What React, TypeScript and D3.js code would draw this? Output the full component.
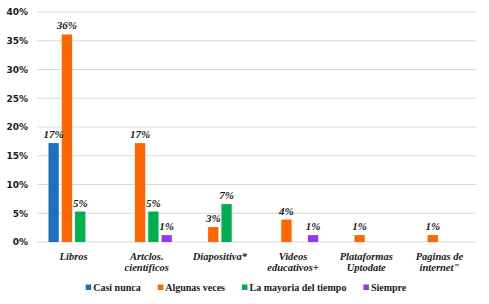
import { useEffect, useRef } from "react";
import * as d3 from "d3";

const categories = [
  ["Libros"],
  ["Artclos.", "científicos"],
  ["Diapositiva*"],
  ["Videos", "educativos+"],
  ["Plataformas", "Uptodate"],
  ["Paginas de", "internet\""],
];
const seriesNames = ["Casi nunca", "Algunas veces", "La mayoria del tiempo", "Siempre"];
const seriesColors = ["#1F6FC0", "#FF6600", "#00B050", "#9933FF"];
const casiNunca = [17.2, 0, 0, 0, 0, 0];
const algunasVeces = [36.1, 17.2, 2.6, 3.9, 1.2, 1.2];
const mayoriaTiempo = [5.3, 5.3, 6.6, 0, 0, 0];
const siempre = [0, 1.2, 0, 1.2, 0, 0];
const yTicks = [0, 5, 10, 15, 20, 25, 30, 35, 40];

const width = 489,
  height = 304;
const margin = { left: 37, right: 13, top: 12, bottom: 62 };

export default function App() {
  const svgRef = useRef<SVGSVGElement>(null);

  useEffect(() => {
    const svg = d3.select(svgRef.current);
    svg.selectAll("*").remove();

    const values = [casiNunca, algunasVeces, mayoriaTiempo, siempre];
    const keys = categories.map((c) => c.join(" "));

    const x0 = d3.scaleBand().domain(keys).range([margin.left, width - margin.right]);
    const inner = 50.2;
    const x1 = d3
      .scaleBand()
      .domain(seriesNames)
      .range([(x0.bandwidth() - inner) / 2, (x0.bandwidth() + inner) / 2])
      .paddingInner(0.225);
    const y = d3.scaleLinear().domain([0, 40]).range([height - margin.bottom, margin.top]);

    // grid
    svg.append("g")
      .selectAll("line")
      .data(yTicks)
      .enter()
      .append("line")
      .attr("x1", margin.left)
      .attr("x2", width - margin.right)
      .attr("y1", (d) => y(d))
      .attr("y2", (d) => y(d))
      .attr("stroke", "#D9D9D9")
      .attr("stroke-width", 1);

    svg.append("g")
      .selectAll("text")
      .data(yTicks)
      .enter()
      .append("text")
      .attr("x", 28)
      .attr("y", (d) => y(d) + 3.3)
      .attr("text-anchor", "end")
      .attr("font-family", "DejaVu Sans")
      .attr("font-weight", "bold")
      .attr("font-size", 9)
      .attr("fill", "#1a1a1a")
      .text((d) => d + "%");

    const flat: { key: string; s: string; v: number; i: number }[] = [];
    values.forEach((arr, si) =>
      arr.forEach((v, ci) => flat.push({ key: keys[ci], s: seriesNames[si], v, i: si }))
    );
    const nonZero = flat.filter((d) => d.v > 0);

    svg.append("g")
      .selectAll("rect")
      .data(nonZero)
      .enter()
      .append("rect")
      .attr("x", (d) => x0(d.key)! + x1(d.s)!)
      .attr("y", (d) => y(d.v))
      .attr("width", x1.bandwidth())
      .attr("height", (d) => y(0) - y(d.v))
      .attr("fill", (d) => seriesColors[d.i]);

    svg.append("g")
      .selectAll("text")
      .data(nonZero)
      .enter()
      .append("text")
      .attr("x", (d) => x0(d.key)! + x1(d.s)! + x1.bandwidth() / 2)
      .attr("y", (d) => y(d.v) - 5)
      .attr("text-anchor", "middle")
      .attr("font-family", "Liberation Serif")
      .attr("font-weight", "bold")
      .attr("font-style", "italic")
      .attr("font-size", 11)
      .attr("fill", "#1a1a1a")
      .text((d) => Math.round(d.v) + "%");

    // category labels
    const cat = svg.append("g")
      .selectAll("text")
      .data(categories)
      .enter()
      .append("text")
      .attr("text-anchor", "middle")
      .attr("font-family", "Liberation Serif")
      .attr("font-weight", "bold")
      .attr("font-style", "italic")
      .attr("font-size", 10.5)
      .attr("fill", "#1a1a1a");
    cat.each(function (c, i) {
      const t = d3.select(this);
      c.forEach((line, j) => {
        t.append("tspan")
          .attr("x", x0(keys[i])! + x0.bandwidth() / 2)
          .attr("y", 259.5 + j * 11.5)
          .text(line);
      });
    });

    // legend
    const legend = svg.append("g");
    let cx = 0;
    seriesNames.forEach((name, i) => {
      const g = legend.append("g").attr("transform", `translate(${cx},0)`);
      g.append("rect").attr("x", 0).attr("y", -6.5).attr("width", 5.5).attr("height", 5.5).attr("fill", seriesColors[i]);
      const t = g.append("text")
        .attr("x", 7.5)
        .attr("y", 0)
        .attr("font-family", "Liberation Serif")
        .attr("font-weight", "bold")
        .attr("font-size", 10)
        .attr("fill", "#1a1a1a")
        .text(name);
      const w = (t.node() as SVGTextElement).getComputedTextLength();
      cx += 7.5 + w + 17;
    });
    const total = cx - 17;
    legend.attr("transform", `translate(${246 - total / 2},291)`);
  }, []);

  return (
    <svg
      ref={svgRef}
      width={width}
      height={height}
      style={{ position: "absolute", left: 0, top: 0, background: "#fff" }}
    />
  );
}
